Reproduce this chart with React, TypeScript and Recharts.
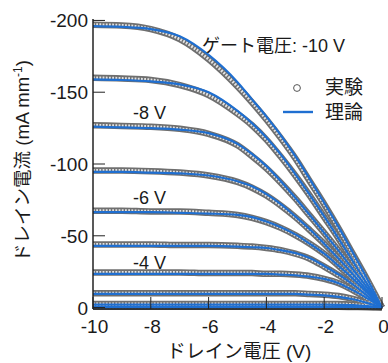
import React from 'react';
import { LineChart, Line, XAxis, YAxis } from 'recharts';

// Drain voltage (V)
const vd = [-10, -9, -8, -7, -6, -5, -4.5, -4, -3.5, -3, -2.5, -2, -1.5, -1, -0.5, 0];

// Gate voltages of each curve
const gates = [-10, -9, -8, -7, -6, -5, -4, -3, -2, -1];

// Experimental drain current (mA/mm), per gate voltage
const exp10 = [-197, -196.5, -194, -187, -173, -154, -143, -131, -118, -104, -88, -72, -55, -37, -19, 0];
const exp9 = [-160, -159.5, -158.5, -155, -148, -135, -127, -117, -105, -92, -78, -63, -48, -32, -16, 0];
const exp8 = [-127, -126.5, -126, -124.5, -121, -113, -105.5, -97, -87, -76, -64, -52, -39.5, -26.5, -13.5, 0];
const exp7 = [-95.5, -95.5, -95, -94, -92, -87.5, -83.5, -78, -71, -63, -54, -44.5, -34, -23, -11.5, 0];
const exp6 = [-67.5, -67.5, -67, -67, -66, -64.5, -62.5, -59.5, -55.5, -50.5, -44.5, -37.5, -29, -20, -10, 0];
const exp5 = [-44, -44, -44, -43.5, -43.5, -43, -42.5, -41.5, -40, -37.5, -34, -28.5, -22.5, -16, -8, 0];
const exp4 = [-24.5, -24.5, -24.5, -24.5, -24, -24, -24, -23.5, -23.5, -23, -22, -20, -17, -12, -6.2, 0];
const exp3 = [-10, -10, -10, -10, -10, -10, -10, -10, -10, -10, -9.5, -9, -8, -6, -3.2, 0];
const exp2 = [-2.5, -2.5, -2.5, -2.5, -2.5, -2.5, -2.5, -2.5, -2.5, -2.5, -2.5, -2.5, -2.4, -2, -1.2, 0];
const exp1 = [-0.5, -0.5, -0.5, -0.5, -0.5, -0.5, -0.5, -0.5, -0.5, -0.5, -0.5, -0.5, -0.5, -0.4, -0.3, 0];

// Theoretical drain current (mA/mm), per gate voltage
const th10 = [-196, -195.5, -194, -189, -176, -157, -145, -133, -120, -105.5, -89.5, -73, -56, -38, -19.5, 0];
const th9 = [-159, -158.5, -157.5, -155.5, -150, -137, -128.5, -118.5, -106.5, -93, -78.5, -63.5, -48, -32, -16, 0];
const th8 = [-126, -125.5, -125, -124, -121.5, -114, -107, -98.5, -88, -76.5, -64.5, -52, -39.5, -26.5, -13.5, 0];
const th7 = [-94.5, -94.5, -94, -93.5, -92, -88, -84.5, -79, -72, -63.5, -54.5, -44.5, -34, -23, -11.5, 0];
const th6 = [-66.5, -66.5, -66.5, -66, -65.5, -64.5, -63, -60, -56, -51, -44.5, -37.5, -29, -20, -10, 0];
const th5 = [-43, -43, -43, -43, -43, -42.5, -42, -41.5, -40, -38, -34.5, -29, -23, -16, -8, 0];
const th4 = [-23.5, -23.5, -23.5, -23.5, -23.5, -23.5, -23.5, -23.5, -23, -22.5, -21.5, -20, -17, -12, -6.2, 0];
const th3 = [-9.5, -9.5, -9.5, -9.5, -9.5, -9.5, -9.5, -9.5, -9.5, -9.5, -9, -8.5, -7.5, -5.8, -3.1, 0];
const th2 = [-2, -2, -2, -2, -2, -2, -2, -2, -2, -2, -2, -2, -1.9, -1.7, -1, 0];
const th1 = [-0.3, -0.3, -0.3, -0.3, -0.3, -0.3, -0.3, -0.3, -0.3, -0.3, -0.3, -0.3, -0.3, -0.3, -0.2, 0];

const expSeries = [exp10, exp9, exp8, exp7, exp6, exp5, exp4, exp3, exp2, exp1];
const thSeries = [th10, th9, th8, th7, th6, th5, th4, th3, th2, th1];

const xTicks = [-10, -8, -6, -4, -2, 0];
const yTicks = [-200, -150, -100, -50, 0];

const data = vd.map((v, i) => {
  const row: Record<string, number> = { vd: v };
  gates.forEach((g, k) => {
    row['e' + k] = expSeries[k][i];
    row['t' + k] = thSeries[k][i];
  });
  return row;
});

const FONT = "'Liberation Sans', Arial, 'Noto Sans CJK JP', sans-serif";
const INK = '#1a1a1a';
const AXIS = '#222';
const BLUE = '#1f6fd1';

const XTickBottom = (props: any) => {
  const { x, y, payload } = props;
  return (
    <g>
      <line x1={x} x2={x} y1={y} y2={y - 12} stroke={AXIS} strokeWidth={1} />
      <text x={x + 1.5} y={y + 24} textAnchor="middle" fontSize={19} fontFamily={FONT} fill={INK}>
        {String(payload.value)}
      </text>
    </g>
  );
};

const XTickTop = (props: any) => {
  const { x, y } = props;
  return <line x1={x} x2={x} y1={y} y2={y + 12} stroke={AXIS} strokeWidth={1} />;
};

const YTickLeft = (props: any) => {
  const { x, y, payload } = props;
  return (
    <g>
      <line x1={x} x2={x + 12} y1={y} y2={y} stroke={AXIS} strokeWidth={1} />
      <text x={x - 5} y={y + 7} textAnchor="end" fontSize={19} fontFamily={FONT} fill={INK}>
        {String(payload.value)}
      </text>
    </g>
  );
};

const YTickRight = (props: any) => {
  const { x, y } = props;
  return <line x1={x} x2={x - 12} y1={y} y2={y} stroke={AXIS} strokeWidth={1} />;
};

const textStyle: React.CSSProperties = {
  position: 'absolute',
  fontFamily: FONT,
  color: INK,
  lineHeight: 1,
  whiteSpace: 'nowrap',
};

export default function App() {
  return (
    <div style={{ position: 'absolute', left: 0, top: 0, width: 388, height: 363, background: '#fff' }}>
      <LineChart width={388} height={363} data={data} margin={{ top: 19, right: 6, bottom: 24, left: 0 }}>
        <XAxis
          dataKey="vd"
          type="number"
          domain={[-10, 0]}
          ticks={xTicks}
          height={30}
          tickSize={0}
          tickMargin={0}
          tickLine={false}
          axisLine={{ stroke: AXIS, strokeWidth: 1.5 }}
          tick={XTickBottom}
          interval={0}
        />
        <XAxis
          xAxisId="top"
          orientation="top"
          dataKey="vd"
          type="number"
          domain={[-10, 0]}
          ticks={xTicks}
          height={0}
          tickSize={0}
          tickMargin={0}
          tickLine={false}
          axisLine={{ stroke: AXIS, strokeWidth: 1.5 }}
          tick={XTickTop}
          interval={0}
        />
        <YAxis
          type="number"
          domain={[-201, 1]}
          reversed
          ticks={yTicks}
          width={93}
          tickSize={0}
          tickMargin={0}
          tickLine={false}
          axisLine={{ stroke: AXIS, strokeWidth: 1.5 }}
          tick={YTickLeft}
          interval={0}
        />
        <YAxis
          yAxisId="right"
          orientation="right"
          type="number"
          domain={[-201, 1]}
          reversed
          ticks={yTicks}
          width={0}
          tickSize={0}
          tickMargin={0}
          tickLine={false}
          axisLine={{ stroke: AXIS, strokeWidth: 1.5 }}
          tick={YTickRight}
          interval={0}
        />
        {gates.map((g, k) => (
          <Line
            key={'eo' + k}
            type="monotone"
            dataKey={'e' + k}
            stroke="#6f6f6f"
            strokeWidth={6.5}
            dot={false}
            activeDot={false}
            isAnimationActive={false}
            strokeLinejoin="round"
          />
        ))}
        {gates.map((g, k) => (
          <Line
            key={'ei' + k}
            type="monotone"
            dataKey={'e' + k}
            stroke="#e2e2e2"
            strokeWidth={3}
            strokeDasharray="1.8 1.4"
            dot={false}
            activeDot={false}
            isAnimationActive={false}
            legendType="none"
          />
        ))}
        {gates.map((g, k) => (
          <Line
            key={'t' + k}
            type="monotone"
            dataKey={'t' + k}
            stroke={BLUE}
            strokeWidth={2.2}
            dot={false}
            activeDot={false}
            isAnimationActive={false}
          />
        ))}
      </LineChart>

      {/* annotations */}
      <div style={{ ...textStyle, left: 202, top: 46, fontSize: 18, transform: 'translateY(-50%)' }}>ゲート電圧: -10 V</div>
      <div style={{ ...textStyle, left: 133, top: 113, fontSize: 18, transform: 'translateY(-50%)' }}>-8 V</div>
      <div style={{ ...textStyle, left: 133, top: 198, fontSize: 18, transform: 'translateY(-50%)' }}>-6 V</div>
      <div style={{ ...textStyle, left: 133, top: 263, fontSize: 18, transform: 'translateY(-50%)' }}>-4 V</div>

      {/* legend */}
      <svg style={{ position: 'absolute', left: 0, top: 0 }} width={388} height={363} pointerEvents="none">
        <circle cx={297} cy={88} r={3.4} fill="#fff" stroke="#555" strokeWidth={1} />
        <line x1={283} x2={313} y1={112} y2={112} stroke={BLUE} strokeWidth={2.4} />
      </svg>
      <div style={{ ...textStyle, left: 325, top: 87, fontSize: 19, transform: 'translateY(-50%)' }}>実験</div>
      <div style={{ ...textStyle, left: 325, top: 112, fontSize: 19, transform: 'translateY(-50%)' }}>理論</div>

      {/* axis titles */}
      <div style={{ ...textStyle, left: 239, top: 351, fontSize: 19, transform: 'translate(-50%, -50%)' }}>ドレイン電圧 (V)</div>
      <div
        style={{
          ...textStyle,
          left: 23,
          top: 161,
          fontSize: 18.5,
          transform: 'translate(-50%, -50%) rotate(-90deg)',
        }}
      >
        ドレイン電流 (mA mm<sup style={{ fontSize: 12, verticalAlign: 'super', lineHeight: 0 }}>-1</sup>)
      </div>
    </div>
  );
}
